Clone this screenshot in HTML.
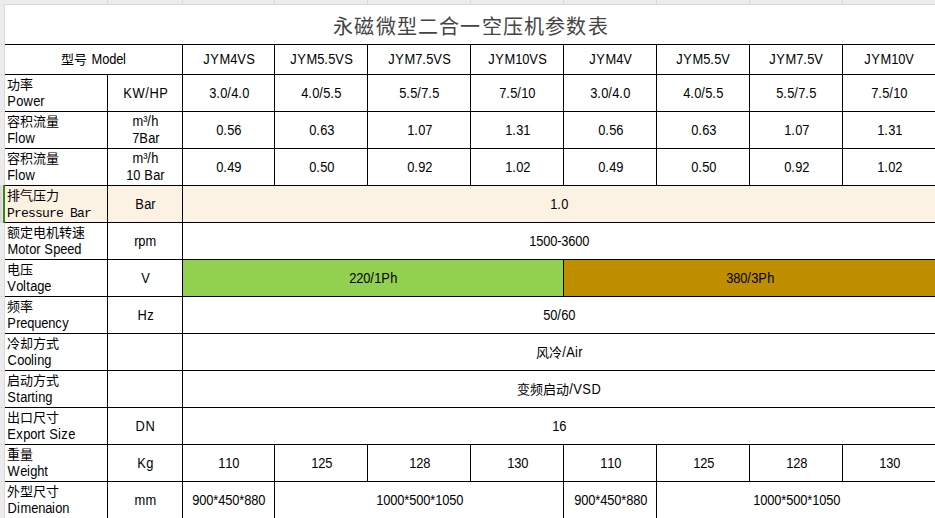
<!DOCTYPE html>
<html lang="zh-CN"><head><meta charset="utf-8"><style>
html,body{margin:0;padding:0;background:#fff;width:935px;height:518px;overflow:hidden;position:relative}
body{font-family:"Liberation Sans",sans-serif;font-size:14px;color:#000}
body>div{position:absolute}
.c{display:flex;align-items:center;justify-content:center;text-align:center;line-height:17px;white-space:nowrap}
.cn2{font-size:13px}
i{font-style:normal;display:inline-block;text-align:center;transform:scaleX(.92)}
b{font-weight:normal;white-space:nowrap}
.title{left:5px;top:6px;width:930px;height:39px;display:flex;align-items:center;justify-content:center;font-family:"Liberation Serif",serif;font-size:20px;letter-spacing:1.2px;padding-left:1px;color:#444}
.lab{left:8px;width:98px;height:36px}
.cn{position:absolute;top:3px;left:-1px;font-size:13px;line-height:14px;white-space:nowrap}
.en{position:absolute;top:18px;left:-1px;line-height:16px;white-space:nowrap}
.mono{font-family:"Liberation Mono",monospace;font-size:13px;letter-spacing:-0.8px}
</style></head>
<body>
<div style="left:0px;top:0px;width:935px;height:4px;background:#ececec"></div><div style="left:0px;top:0px;width:4px;height:518px;background:#ececec"></div><div style="left:4px;top:4px;width:931px;height:1px;background:#d9d9d9"></div><div style="left:4px;top:4px;width:1px;height:514px;background:#d9d9d9"></div><div style="left:107px;top:0px;width:1px;height:4px;background:#d9d9d9"></div><div style="left:182px;top:0px;width:1px;height:4px;background:#d9d9d9"></div><div style="left:274px;top:0px;width:1px;height:4px;background:#d9d9d9"></div><div style="left:367px;top:0px;width:1px;height:4px;background:#d9d9d9"></div><div style="left:470px;top:0px;width:1px;height:4px;background:#d9d9d9"></div><div style="left:563px;top:0px;width:1px;height:4px;background:#d9d9d9"></div><div style="left:656px;top:0px;width:1px;height:4px;background:#d9d9d9"></div><div style="left:749px;top:0px;width:1px;height:4px;background:#d9d9d9"></div><div style="left:842px;top:0px;width:1px;height:4px;background:#d9d9d9"></div><div style="left:0px;top:44px;width:4px;height:1px;background:#dcdcdc"></div><div style="left:0px;top:74px;width:4px;height:1px;background:#dcdcdc"></div><div style="left:0px;top:111px;width:4px;height:1px;background:#dcdcdc"></div><div style="left:0px;top:148px;width:4px;height:1px;background:#dcdcdc"></div><div style="left:0px;top:185px;width:4px;height:1px;background:#dcdcdc"></div><div style="left:0px;top:222px;width:4px;height:1px;background:#dcdcdc"></div><div style="left:0px;top:259px;width:4px;height:1px;background:#dcdcdc"></div><div style="left:0px;top:296px;width:4px;height:1px;background:#dcdcdc"></div><div style="left:0px;top:333px;width:4px;height:1px;background:#dcdcdc"></div><div style="left:0px;top:370px;width:4px;height:1px;background:#dcdcdc"></div><div style="left:0px;top:407px;width:4px;height:1px;background:#dcdcdc"></div><div style="left:0px;top:444px;width:4px;height:1px;background:#dcdcdc"></div><div style="left:0px;top:481px;width:4px;height:1px;background:#dcdcdc"></div><div style="left:0px;top:518px;width:4px;height:1px;background:#dcdcdc"></div><div style="left:5px;top:186px;width:930px;height:36px;background:#fcf2e3"></div><div style="left:183px;top:260px;width:380px;height:36px;background:#92d050"></div><div style="left:564px;top:260px;width:371px;height:36px;background:#bf8f00"></div><div style="left:0px;top:186px;width:2px;height:36px;background:#d9d9d9"></div><div style="left:2px;top:186px;width:1px;height:36px;background:#e9e5ef"></div><div style="left:3px;top:185px;width:2px;height:38px;background:#2f8a12"></div><div style="left:5px;top:44px;width:930px;height:1px;background:#000"></div><div style="left:5px;top:74px;width:930px;height:1px;background:#000"></div><div style="left:5px;top:111px;width:930px;height:1px;background:#000"></div><div style="left:5px;top:148px;width:930px;height:1px;background:#000"></div><div style="left:5px;top:185px;width:930px;height:1px;background:#000"></div><div style="left:5px;top:222px;width:930px;height:1px;background:#000"></div><div style="left:5px;top:259px;width:930px;height:1px;background:#000"></div><div style="left:5px;top:296px;width:930px;height:1px;background:#000"></div><div style="left:5px;top:333px;width:930px;height:1px;background:#000"></div><div style="left:5px;top:370px;width:930px;height:1px;background:#000"></div><div style="left:5px;top:407px;width:930px;height:1px;background:#000"></div><div style="left:5px;top:444px;width:930px;height:1px;background:#000"></div><div style="left:5px;top:481px;width:930px;height:1px;background:#000"></div><div style="left:5px;top:518px;width:930px;height:1px;background:#000"></div><div style="left:107px;top:74px;width:1px;height:444px;background:#000"></div><div style="left:182px;top:44px;width:1px;height:474px;background:#000"></div><div style="left:274px;top:44px;width:1px;height:31px;background:#000"></div><div style="left:367px;top:44px;width:1px;height:31px;background:#000"></div><div style="left:470px;top:44px;width:1px;height:31px;background:#000"></div><div style="left:563px;top:44px;width:1px;height:31px;background:#000"></div><div style="left:656px;top:44px;width:1px;height:31px;background:#000"></div><div style="left:749px;top:44px;width:1px;height:31px;background:#000"></div><div style="left:842px;top:44px;width:1px;height:31px;background:#000"></div><div style="left:274px;top:74px;width:1px;height:38px;background:#000"></div><div style="left:367px;top:74px;width:1px;height:38px;background:#000"></div><div style="left:470px;top:74px;width:1px;height:38px;background:#000"></div><div style="left:563px;top:74px;width:1px;height:38px;background:#000"></div><div style="left:656px;top:74px;width:1px;height:38px;background:#000"></div><div style="left:749px;top:74px;width:1px;height:38px;background:#000"></div><div style="left:842px;top:74px;width:1px;height:38px;background:#000"></div><div style="left:274px;top:111px;width:1px;height:38px;background:#000"></div><div style="left:367px;top:111px;width:1px;height:38px;background:#000"></div><div style="left:470px;top:111px;width:1px;height:38px;background:#000"></div><div style="left:563px;top:111px;width:1px;height:38px;background:#000"></div><div style="left:656px;top:111px;width:1px;height:38px;background:#000"></div><div style="left:749px;top:111px;width:1px;height:38px;background:#000"></div><div style="left:842px;top:111px;width:1px;height:38px;background:#000"></div><div style="left:274px;top:148px;width:1px;height:38px;background:#000"></div><div style="left:367px;top:148px;width:1px;height:38px;background:#000"></div><div style="left:470px;top:148px;width:1px;height:38px;background:#000"></div><div style="left:563px;top:148px;width:1px;height:38px;background:#000"></div><div style="left:656px;top:148px;width:1px;height:38px;background:#000"></div><div style="left:749px;top:148px;width:1px;height:38px;background:#000"></div><div style="left:842px;top:148px;width:1px;height:38px;background:#000"></div><div style="left:274px;top:444px;width:1px;height:38px;background:#000"></div><div style="left:367px;top:444px;width:1px;height:38px;background:#000"></div><div style="left:470px;top:444px;width:1px;height:38px;background:#000"></div><div style="left:563px;top:444px;width:1px;height:38px;background:#000"></div><div style="left:656px;top:444px;width:1px;height:38px;background:#000"></div><div style="left:749px;top:444px;width:1px;height:38px;background:#000"></div><div style="left:842px;top:444px;width:1px;height:38px;background:#000"></div><div style="left:563px;top:259px;width:1px;height:38px;background:#000"></div><div style="left:274px;top:481px;width:1px;height:38px;background:#000"></div><div style="left:563px;top:481px;width:1px;height:38px;background:#000"></div><div style="left:656px;top:481px;width:1px;height:38px;background:#000"></div><div class="title">永磁微型二合一空压机参数表</div><div class="c" style="left:5px;top:45px;width:177px;height:29px"><div><span><span class="cn2">型号</span> <b><i style="width:11px">M</i><i style="width:7px">o</i><i style="width:7px">d</i><i style="width:7px">e</i><i style="width:3px">l</i></b></span></div></div><div class="c" style="left:183px;top:45px;width:91px;height:29px"><div><b><i style="width:7px">J</i><i style="width:9px">Y</i><i style="width:11px">M</i><i style="width:7px">4</i><i style="width:9px">V</i><i style="width:9px">S</i></b></div></div><div class="c" style="left:275px;top:45px;width:92px;height:29px"><div><b><i style="width:7px">J</i><i style="width:9px">Y</i><i style="width:11px">M</i><i style="width:7px">5</i><i style="width:4px">.</i><i style="width:7px">5</i><i style="width:9px">V</i><i style="width:9px">S</i></b></div></div><div class="c" style="left:368px;top:45px;width:102px;height:29px"><div><b><i style="width:7px">J</i><i style="width:9px">Y</i><i style="width:11px">M</i><i style="width:7px">7</i><i style="width:4px">.</i><i style="width:7px">5</i><i style="width:9px">V</i><i style="width:9px">S</i></b></div></div><div class="c" style="left:471px;top:45px;width:92px;height:29px"><div><b><i style="width:7px">J</i><i style="width:9px">Y</i><i style="width:11px">M</i><i style="width:7px">1</i><i style="width:7px">0</i><i style="width:9px">V</i><i style="width:9px">S</i></b></div></div><div class="c" style="left:564px;top:45px;width:92px;height:29px"><div><b><i style="width:7px">J</i><i style="width:9px">Y</i><i style="width:11px">M</i><i style="width:7px">4</i><i style="width:9px">V</i></b></div></div><div class="c" style="left:657px;top:45px;width:92px;height:29px"><div><b><i style="width:7px">J</i><i style="width:9px">Y</i><i style="width:11px">M</i><i style="width:7px">5</i><i style="width:4px">.</i><i style="width:7px">5</i><i style="width:9px">V</i></b></div></div><div class="c" style="left:750px;top:45px;width:92px;height:29px"><div><b><i style="width:7px">J</i><i style="width:9px">Y</i><i style="width:11px">M</i><i style="width:7px">7</i><i style="width:4px">.</i><i style="width:7px">5</i><i style="width:9px">V</i></b></div></div><div class="c" style="left:843px;top:45px;width:92px;height:29px"><div><b><i style="width:7px">J</i><i style="width:9px">Y</i><i style="width:11px">M</i><i style="width:7px">1</i><i style="width:7px">0</i><i style="width:9px">V</i></b></div></div><div class="lab" style="top:75px"><div class="cn">功率</div><div class="en"><b><i style="width:9px">P</i><i style="width:7px">o</i><i style="width:10px">w</i><i style="width:7px">e</i><i style="width:4px">r</i></b></div></div><div class="lab" style="top:112px"><div class="cn">容积流量</div><div class="en"><b><i style="width:8px">F</i><i style="width:3px">l</i><i style="width:7px">o</i><i style="width:10px">w</i></b></div></div><div class="lab" style="top:149px"><div class="cn">容积流量</div><div class="en"><b><i style="width:8px">F</i><i style="width:3px">l</i><i style="width:7px">o</i><i style="width:10px">w</i></b></div></div><div class="lab" style="top:186px"><div class="cn">排气压力</div><div class="en"><span class="mono">Pressure Bar</span></div></div><div class="lab" style="top:223px"><div class="cn">额定电机转速</div><div class="en"><b><i style="width:11px">M</i><i style="width:7px">o</i><i style="width:4px">t</i><i style="width:7px">o</i><i style="width:4px">r</i><i style="width:4px">&nbsp;</i><i style="width:9px">S</i><i style="width:7px">p</i><i style="width:7px">e</i><i style="width:7px">e</i><i style="width:7px">d</i></b></div></div><div class="lab" style="top:260px"><div class="cn">电压</div><div class="en"><b><i style="width:9px">V</i><i style="width:7px">o</i><i style="width:3px">l</i><i style="width:4px">t</i><i style="width:7px">a</i><i style="width:7px">g</i><i style="width:7px">e</i></b></div></div><div class="lab" style="top:297px"><div class="cn">频率</div><div class="en"><b><i style="width:9px">P</i><i style="width:4px">r</i><i style="width:7px">e</i><i style="width:7px">q</i><i style="width:7px">u</i><i style="width:7px">e</i><i style="width:7px">n</i><i style="width:7px">c</i><i style="width:7px">y</i></b></div></div><div class="lab" style="top:334px"><div class="cn">冷却方式</div><div class="en"><b><i style="width:10px">C</i><i style="width:7px">o</i><i style="width:7px">o</i><i style="width:3px">l</i><i style="width:3px">i</i><i style="width:7px">n</i><i style="width:7px">g</i></b></div></div><div class="lab" style="top:371px"><div class="cn">启动方式</div><div class="en"><b><i style="width:9px">S</i><i style="width:4px">t</i><i style="width:7px">a</i><i style="width:4px">r</i><i style="width:4px">t</i><i style="width:3px">i</i><i style="width:7px">n</i><i style="width:7px">g</i></b></div></div><div class="lab" style="top:408px"><div class="cn">出口尺寸</div><div class="en"><b><i style="width:9px">E</i><i style="width:7px">x</i><i style="width:7px">p</i><i style="width:7px">o</i><i style="width:4px">r</i><i style="width:4px">t</i><i style="width:4px">&nbsp;</i><i style="width:9px">S</i><i style="width:3px">i</i><i style="width:7px">z</i><i style="width:7px">e</i></b></div></div><div class="lab" style="top:445px"><div class="cn">重量</div><div class="en"><b><i style="width:13px">W</i><i style="width:7px">e</i><i style="width:3px">i</i><i style="width:7px">g</i><i style="width:7px">h</i><i style="width:4px">t</i></b></div></div><div class="lab" style="top:482px"><div class="cn">外型尺寸</div><div class="en"><b><i style="width:10px">D</i><i style="width:3px">i</i><i style="width:11px">m</i><i style="width:7px">e</i><i style="width:7px">n</i><i style="width:7px">a</i><i style="width:3px">i</i><i style="width:7px">o</i><i style="width:7px">n</i></b></div></div><div class="c" style="left:108px;top:75px;width:74px;height:36px"><div><b><i style="width:9px">K</i><i style="width:13px">W</i><i style="width:4px">/</i><i style="width:10px">H</i><i style="width:9px">P</i></b></div></div><div class="c" style="left:108px;top:112px;width:74px;height:36px"><div><b><i style="width:11px">m</i><i style="width:4px">³</i><i style="width:4px">/</i><i style="width:7px">h</i></b><br><b><i style="width:7px">7</i><i style="width:9px">B</i><i style="width:7px">a</i><i style="width:4px">r</i></b></div></div><div class="c" style="left:108px;top:149px;width:74px;height:36px"><div><b><i style="width:11px">m</i><i style="width:4px">³</i><i style="width:4px">/</i><i style="width:7px">h</i></b><br><b><i style="width:7px">1</i><i style="width:7px">0</i><i style="width:4px">&nbsp;</i><i style="width:9px">B</i><i style="width:7px">a</i><i style="width:4px">r</i></b></div></div><div class="c" style="left:108px;top:186px;width:74px;height:36px"><div><b><i style="width:9px">B</i><i style="width:7px">a</i><i style="width:4px">r</i></b></div></div><div class="c" style="left:108px;top:223px;width:74px;height:36px"><div><b><i style="width:4px">r</i><i style="width:7px">p</i><i style="width:11px">m</i></b></div></div><div class="c" style="left:108px;top:260px;width:74px;height:36px"><div><b><i style="width:9px">V</i></b></div></div><div class="c" style="left:108px;top:297px;width:74px;height:36px"><div><b><i style="width:10px">H</i><i style="width:7px">z</i></b></div></div><div class="c" style="left:108px;top:408px;width:74px;height:36px"><div><b><i style="width:10px">D</i><i style="width:10px">N</i></b></div></div><div class="c" style="left:108px;top:445px;width:74px;height:36px"><div><b><i style="width:9px">K</i><i style="width:7px">g</i></b></div></div><div class="c" style="left:108px;top:482px;width:74px;height:36px"><div><b><i style="width:11px">m</i><i style="width:11px">m</i></b></div></div><div class="c" style="left:183px;top:75px;width:91px;height:36px"><div><b><i style="width:7px">3</i><i style="width:4px">.</i><i style="width:7px">0</i><i style="width:4px">/</i><i style="width:7px">4</i><i style="width:4px">.</i><i style="width:7px">0</i></b></div></div><div class="c" style="left:275px;top:75px;width:92px;height:36px"><div><b><i style="width:7px">4</i><i style="width:4px">.</i><i style="width:7px">0</i><i style="width:4px">/</i><i style="width:7px">5</i><i style="width:4px">.</i><i style="width:7px">5</i></b></div></div><div class="c" style="left:368px;top:75px;width:102px;height:36px"><div><b><i style="width:7px">5</i><i style="width:4px">.</i><i style="width:7px">5</i><i style="width:4px">/</i><i style="width:7px">7</i><i style="width:4px">.</i><i style="width:7px">5</i></b></div></div><div class="c" style="left:471px;top:75px;width:92px;height:36px"><div><b><i style="width:7px">7</i><i style="width:4px">.</i><i style="width:7px">5</i><i style="width:4px">/</i><i style="width:7px">1</i><i style="width:7px">0</i></b></div></div><div class="c" style="left:564px;top:75px;width:92px;height:36px"><div><b><i style="width:7px">3</i><i style="width:4px">.</i><i style="width:7px">0</i><i style="width:4px">/</i><i style="width:7px">4</i><i style="width:4px">.</i><i style="width:7px">0</i></b></div></div><div class="c" style="left:657px;top:75px;width:92px;height:36px"><div><b><i style="width:7px">4</i><i style="width:4px">.</i><i style="width:7px">0</i><i style="width:4px">/</i><i style="width:7px">5</i><i style="width:4px">.</i><i style="width:7px">5</i></b></div></div><div class="c" style="left:750px;top:75px;width:92px;height:36px"><div><b><i style="width:7px">5</i><i style="width:4px">.</i><i style="width:7px">5</i><i style="width:4px">/</i><i style="width:7px">7</i><i style="width:4px">.</i><i style="width:7px">5</i></b></div></div><div class="c" style="left:843px;top:75px;width:92px;height:36px"><div><b><i style="width:7px">7</i><i style="width:4px">.</i><i style="width:7px">5</i><i style="width:4px">/</i><i style="width:7px">1</i><i style="width:7px">0</i></b></div></div><div class="c" style="left:183px;top:112px;width:91px;height:36px"><div><b><i style="width:7px">0</i><i style="width:4px">.</i><i style="width:7px">5</i><i style="width:7px">6</i></b></div></div><div class="c" style="left:275px;top:112px;width:92px;height:36px"><div><b><i style="width:7px">0</i><i style="width:4px">.</i><i style="width:7px">6</i><i style="width:7px">3</i></b></div></div><div class="c" style="left:368px;top:112px;width:102px;height:36px"><div><b><i style="width:7px">1</i><i style="width:4px">.</i><i style="width:7px">0</i><i style="width:7px">7</i></b></div></div><div class="c" style="left:471px;top:112px;width:92px;height:36px"><div><b><i style="width:7px">1</i><i style="width:4px">.</i><i style="width:7px">3</i><i style="width:7px">1</i></b></div></div><div class="c" style="left:564px;top:112px;width:92px;height:36px"><div><b><i style="width:7px">0</i><i style="width:4px">.</i><i style="width:7px">5</i><i style="width:7px">6</i></b></div></div><div class="c" style="left:657px;top:112px;width:92px;height:36px"><div><b><i style="width:7px">0</i><i style="width:4px">.</i><i style="width:7px">6</i><i style="width:7px">3</i></b></div></div><div class="c" style="left:750px;top:112px;width:92px;height:36px"><div><b><i style="width:7px">1</i><i style="width:4px">.</i><i style="width:7px">0</i><i style="width:7px">7</i></b></div></div><div class="c" style="left:843px;top:112px;width:92px;height:36px"><div><b><i style="width:7px">1</i><i style="width:4px">.</i><i style="width:7px">3</i><i style="width:7px">1</i></b></div></div><div class="c" style="left:183px;top:149px;width:91px;height:36px"><div><b><i style="width:7px">0</i><i style="width:4px">.</i><i style="width:7px">4</i><i style="width:7px">9</i></b></div></div><div class="c" style="left:275px;top:149px;width:92px;height:36px"><div><b><i style="width:7px">0</i><i style="width:4px">.</i><i style="width:7px">5</i><i style="width:7px">0</i></b></div></div><div class="c" style="left:368px;top:149px;width:102px;height:36px"><div><b><i style="width:7px">0</i><i style="width:4px">.</i><i style="width:7px">9</i><i style="width:7px">2</i></b></div></div><div class="c" style="left:471px;top:149px;width:92px;height:36px"><div><b><i style="width:7px">1</i><i style="width:4px">.</i><i style="width:7px">0</i><i style="width:7px">2</i></b></div></div><div class="c" style="left:564px;top:149px;width:92px;height:36px"><div><b><i style="width:7px">0</i><i style="width:4px">.</i><i style="width:7px">4</i><i style="width:7px">9</i></b></div></div><div class="c" style="left:657px;top:149px;width:92px;height:36px"><div><b><i style="width:7px">0</i><i style="width:4px">.</i><i style="width:7px">5</i><i style="width:7px">0</i></b></div></div><div class="c" style="left:750px;top:149px;width:92px;height:36px"><div><b><i style="width:7px">0</i><i style="width:4px">.</i><i style="width:7px">9</i><i style="width:7px">2</i></b></div></div><div class="c" style="left:843px;top:149px;width:92px;height:36px"><div><b><i style="width:7px">1</i><i style="width:4px">.</i><i style="width:7px">0</i><i style="width:7px">2</i></b></div></div><div class="c" style="left:183px;top:186px;width:752px;height:36px"><div><b><i style="width:7px">1</i><i style="width:4px">.</i><i style="width:7px">0</i></b></div></div><div class="c" style="left:183px;top:223px;width:752px;height:36px"><div><b><i style="width:7px">1</i><i style="width:7px">5</i><i style="width:7px">0</i><i style="width:7px">0</i><i style="width:4px">-</i><i style="width:7px">3</i><i style="width:7px">6</i><i style="width:7px">0</i><i style="width:7px">0</i></b></div></div><div class="c" style="left:183px;top:260px;width:380px;height:36px"><div><b><i style="width:7px">2</i><i style="width:7px">2</i><i style="width:7px">0</i><i style="width:4px">/</i><i style="width:7px">1</i><i style="width:9px">P</i><i style="width:7px">h</i></b></div></div><div class="c" style="left:564px;top:260px;width:371px;height:36px"><div><b><i style="width:7px">3</i><i style="width:7px">8</i><i style="width:7px">0</i><i style="width:4px">/</i><i style="width:7px">3</i><i style="width:9px">P</i><i style="width:7px">h</i></b></div></div><div class="c" style="left:183px;top:297px;width:752px;height:36px"><div><b><i style="width:7px">5</i><i style="width:7px">0</i><i style="width:4px">/</i><i style="width:7px">6</i><i style="width:7px">0</i></b></div></div><div class="c" style="left:183px;top:334px;width:752px;height:36px"><div><span><span class="cn2">风冷</span><b><i style="width:4px">/</i><i style="width:9px">A</i><i style="width:3px">i</i><i style="width:4px">r</i></b></span></div></div><div class="c" style="left:183px;top:371px;width:752px;height:36px"><div><span><span class="cn2">变频启动</span><b><i style="width:4px">/</i><i style="width:9px">V</i><i style="width:9px">S</i><i style="width:10px">D</i></b></span></div></div><div class="c" style="left:183px;top:408px;width:752px;height:36px"><div><b><i style="width:7px">1</i><i style="width:7px">6</i></b></div></div><div class="c" style="left:183px;top:445px;width:91px;height:36px"><div><b><i style="width:7px">1</i><i style="width:7px">1</i><i style="width:7px">0</i></b></div></div><div class="c" style="left:275px;top:445px;width:92px;height:36px"><div><b><i style="width:7px">1</i><i style="width:7px">2</i><i style="width:7px">5</i></b></div></div><div class="c" style="left:368px;top:445px;width:102px;height:36px"><div><b><i style="width:7px">1</i><i style="width:7px">2</i><i style="width:7px">8</i></b></div></div><div class="c" style="left:471px;top:445px;width:92px;height:36px"><div><b><i style="width:7px">1</i><i style="width:7px">3</i><i style="width:7px">0</i></b></div></div><div class="c" style="left:564px;top:445px;width:92px;height:36px"><div><b><i style="width:7px">1</i><i style="width:7px">1</i><i style="width:7px">0</i></b></div></div><div class="c" style="left:657px;top:445px;width:92px;height:36px"><div><b><i style="width:7px">1</i><i style="width:7px">2</i><i style="width:7px">5</i></b></div></div><div class="c" style="left:750px;top:445px;width:92px;height:36px"><div><b><i style="width:7px">1</i><i style="width:7px">2</i><i style="width:7px">8</i></b></div></div><div class="c" style="left:843px;top:445px;width:92px;height:36px"><div><b><i style="width:7px">1</i><i style="width:7px">3</i><i style="width:7px">0</i></b></div></div><div class="c" style="left:183px;top:482px;width:91px;height:36px"><div><b><i style="width:7px">9</i><i style="width:7px">0</i><i style="width:7px">0</i><i style="width:5px">*</i><i style="width:7px">4</i><i style="width:7px">5</i><i style="width:7px">0</i><i style="width:5px">*</i><i style="width:7px">8</i><i style="width:7px">8</i><i style="width:7px">0</i></b></div></div><div class="c" style="left:275px;top:482px;width:288px;height:36px"><div><b><i style="width:7px">1</i><i style="width:7px">0</i><i style="width:7px">0</i><i style="width:7px">0</i><i style="width:5px">*</i><i style="width:7px">5</i><i style="width:7px">0</i><i style="width:7px">0</i><i style="width:5px">*</i><i style="width:7px">1</i><i style="width:7px">0</i><i style="width:7px">5</i><i style="width:7px">0</i></b></div></div><div class="c" style="left:564px;top:482px;width:92px;height:36px"><div><b><i style="width:7px">9</i><i style="width:7px">0</i><i style="width:7px">0</i><i style="width:5px">*</i><i style="width:7px">4</i><i style="width:7px">5</i><i style="width:7px">0</i><i style="width:5px">*</i><i style="width:7px">8</i><i style="width:7px">8</i><i style="width:7px">0</i></b></div></div><div class="c" style="left:657px;top:482px;width:278px;height:36px"><div><b><i style="width:7px">1</i><i style="width:7px">0</i><i style="width:7px">0</i><i style="width:7px">0</i><i style="width:5px">*</i><i style="width:7px">5</i><i style="width:7px">0</i><i style="width:7px">0</i><i style="width:5px">*</i><i style="width:7px">1</i><i style="width:7px">0</i><i style="width:7px">5</i><i style="width:7px">0</i></b></div></div>
</body></html>
